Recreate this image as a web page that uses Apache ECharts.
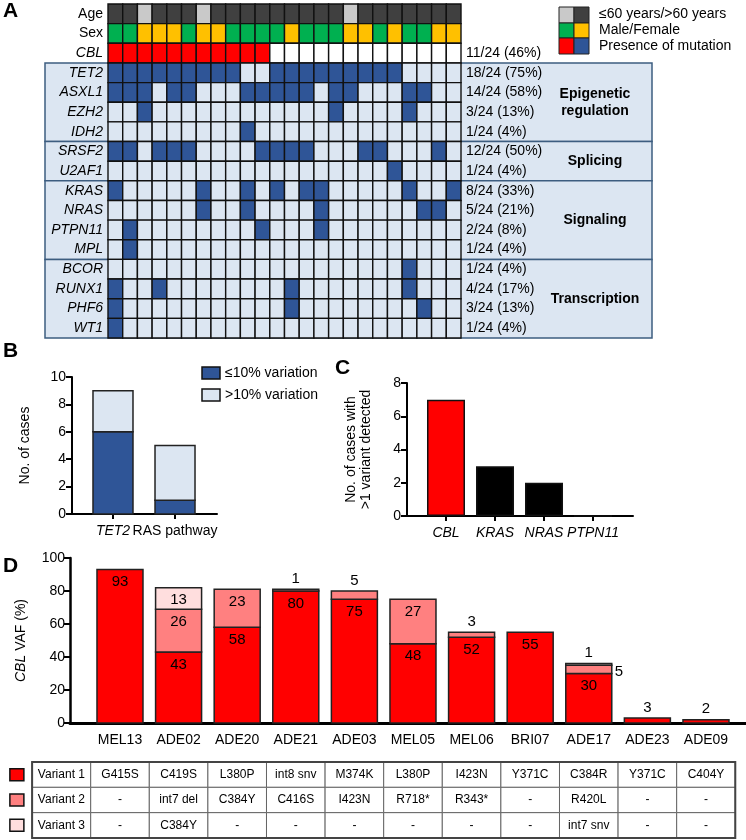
<!DOCTYPE html>
<html><head><meta charset="utf-8">
<script src="https://cdn.jsdelivr.net/npm/echarts@6/dist/echarts.min.js"></script>
<style>html,body{margin:0;padding:0;background:#fff}#c{width:746px;height:840px}</style>
</head><body><div id="c"></div>
<script>
// ===== Panel A data =====
const rowNames = ['Age','Sex','CBL','TET2','ASXL1','EZH2','IDH2','SRSF2','U2AF1','KRAS','NRAS','PTPN11','MPL','BCOR','RUNX1','PHF6','WT1'];
const countLabels = ['', '', '11/24 (46%)', '18/24 (75%)', '14/24 (58%)', '3/24 (13%)', '1/24 (4%)', '12/24 (50%)', '1/24 (4%)', '8/24 (33%)', '5/24 (21%)', '2/24 (8%)', '1/24 (4%)', '1/24 (4%)', '4/24 (17%)', '3/24 (13%)', '1/24 (4%)'];
const over60 = [1,1,0,1,1,1,0,1,1,1,1,1,1,1,1,1,0,1,1,1,1,1,1,1];
const male   = [1,1,0,0,0,1,0,0,1,1,1,1,0,1,1,1,0,0,1,0,1,1,0,0];
const mutCBL    = [1,2,3,4,5,6,7,8,9,10,11];
const mutTET2   = [1,2,3,4,5,6,7,8,9,12,13,14,15,16,17,18,19,20];
const mutASXL1  = [1,2,3,5,6,10,11,12,13,14,16,17,21,22];
const mutEZH2   = [3,16,21];
const mutIDH2   = [10];
const mutSRSF2  = [1,2,4,5,6,11,12,13,14,18,19,23];
const mutU2AF1  = [20];
const mutKRAS   = [1,7,10,12,14,15,21,24];
const mutNRAS   = [7,10,15,22,23];
const mutPTPN11 = [2,11,15];
const mutMPL    = [2];
const mutBCOR   = [21];
const mutRUNX1  = [1,4,13,21];
const mutPHF6   = [1,13,22];
const mutWT1    = [1];
const groupNames = ['Epigenetic\nregulation','Splicing','Signaling','Transcription'];
const groupFirstRow = [3,7,9,13];
const groupLastRow  = [6,8,12,16];

// ===== Panel B data =====
const bCats = ['TET2','RAS pathway'];
const bLow  = [6,1];   // <=10% variation
const bHigh = [3,4];   // >10% variation

// ===== Panel C data =====
const cCats = ['CBL','KRAS','NRAS','PTPN11'];
const cVals = [7,3,2,0];

// ===== Panel D data =====
const dCats = ['MEL13','ADE02','ADE20','ADE21','ADE03','MEL05','MEL06','BRI07','ADE17','ADE23','ADE09'];
const vaf1 = [93,43,58,80,75,48,52,55,30,3,2];
const vaf2 = [null,26,23,1,5,27,3,null,5,null,null];
const vaf3 = [null,13,null,null,null,null,null,null,1,null,null];
const variant1 = ['G415S','C419S','L380P','int8 snv','M374K','L380P','I423N','Y371C','C384R','Y371C','C404Y'];
const variant2 = ['-','int7 del','C384Y','C416S','I423N','R718*','R343*','-','R420L','-','-'];
const variant3 = ['-','C384Y','-','-','-','-','-','-','int7 snv','-','-'];
const variantNames = ['Variant 1','Variant 2','Variant 3'];

// ===== styles =====
const FONT = '"Liberation Sans", Arial, Helvetica, sans-serif';
const C_DARK = '#404040', C_LIGHT = '#c9c9c9', C_MALE = '#00b050', C_FEMALE = '#ffc000';
const C_RED = '#ff0000', C_BLUE = '#2f5597', C_PALE = '#dce6f2', C_WHITE = '#ffffff';
const C_V2 = '#ff8080', C_V3 = '#ffdede';
const cellColors = [C_DARK, C_LIGHT, C_MALE, C_FEMALE, C_RED, C_WHITE, C_BLUE, C_PALE];

const geneMut = [mutCBL, mutTET2, mutASXL1, mutEZH2, mutIDH2, mutSRSF2, mutU2AF1, mutKRAS, mutNRAS, mutPTPN11, mutMPL, mutBCOR, mutRUNX1, mutPHF6, mutWT1];
const cells = [];
for (let c = 0; c < 24; c++) {
  cells.push([c, 0, over60[c] ? 0 : 1]);
  cells.push([c, 1, male[c] ? 2 : 3]);
  geneMut.forEach((m, gi) => {
    const r = gi + 2;
    const hit = m.indexOf(c + 1) >= 0;
    cells.push([c, r, r === 2 ? (hit ? 4 : 5) : (hit ? 6 : 7)]);
  });
}
const groupData = groupNames.map((g, i) => [groupFirstRow[i], groupLastRow[i], i]);

function renderCell(params, api) {
  const p = api.coord([api.value(0), api.value(1)]);
  const s = api.size([1, 1]);
  return {type: 'rect', shape: {x: p[0] - s[0]/2, y: p[1] - s[1]/2, width: s[0], height: s[1]},
    style: {fill: cellColors[api.value(2)], stroke: '#111', lineWidth: 1.4}};
}
function renderGroup(params, api) {
  const cs = params.coordSys;
  const s = api.size([1, 1]);
  const top = api.coord([0, api.value(0)])[1] - s[1]/2;
  const bot = api.coord([0, api.value(1)])[1] + s[1]/2;
  return {type: 'group', children: [
    {type: 'rect', shape: {x: cs.x - 63, y: top, width: cs.width + 63 + 191, height: bot - top},
      style: {fill: C_PALE, stroke: '#3d5d80', lineWidth: 1.5}},
    {type: 'text', style: {text: groupNames[api.value(2)], x: cs.x + cs.width + 134, y: (top + bot)/2,
      align: 'center', verticalAlign: 'middle', font: 'bold 14px ' + FONT, fill: '#000', lineHeight: 17}}
  ]};
}

// ---- stacked bars drawn through the axes (custom series) ----
function stackLayers(layers) {
  // returns per layer: data rows [index, value, base]
  return layers.map((arr, si) => {
    const rows = [];
    arr.forEach((v, i) => {
      if (v == null) return;
      let base = 0;
      for (let k = 0; k < si; k++) base += layers[k][i] || 0;
      rows.push([i, v, base]);
    });
    return rows;
  });
}
function labelPlacement(layers, si, i) {
  const v = layers[si][i];
  if (v >= 10) return 'insideTop';
  const above = layers.slice(si + 1).some(a => a[i] != null);
  return above ? 'right' : 'top';
}
function stackSeries(layers, colors, barW, xi, yi, withLabels, fontSize) {
  const stacked = stackLayers(layers);
  return stacked.map((rows, si) => ({
    type: 'custom', xAxisIndex: xi, yAxisIndex: yi, data: rows, silent: true, z: 3,
    encode: {x: 0, y: 1},
    renderItem: (params, api) => {
      const i = api.value(0), v = api.value(1), b = api.value(2);
      const p0 = api.coord([i, b]);
      const p1 = api.coord([i, b + v]);
      const children = [{type: 'rect',
        shape: {x: p0[0] - barW/2, y: p1[1], width: barW, height: p0[1] - p1[1]},
        style: {fill: colors[si], stroke: '#222', lineWidth: 1.5}}];
      if (withLabels) {
        const pos = labelPlacement(layers, si, i);
        let st;
        if (pos === 'insideTop') st = {x: p0[0], y: p1[1] + 5, align: 'center', verticalAlign: 'top'};
        else if (pos === 'top') st = {x: p0[0], y: p1[1] - 3, align: 'center', verticalAlign: 'bottom'};
        else st = {x: p0[0] + barW/2 + 3, y: (p0[1] + p1[1]) / 2 + 2, align: 'left', verticalAlign: 'middle'};
        children.push({type: 'text', z2: 10, style: Object.assign(st, {text: String(v), font: fontSize + 'px ' + FONT, fill: '#000'})});
      }
      return {type: 'group', children};
    }
  }));
}

// table
const tableRows = [variant1, variant2, variant3];
const tableData = [];
for (let r = 0; r < 3; r++) for (let c = -1; c < 11; c++) tableData.push([c, r]);
const squareColors = [C_RED, C_V2, C_V3];
function renderTable(params, api) {
  const c = api.value(0), r = api.value(1);
  const p0 = api.coord([c - 0.5, r]);
  const p1 = api.coord([c + 0.5, r + 1]);
  const ctr = api.coord([c, r + 0.5]);
  const txt = c < 0 ? variantNames[r] : tableRows[r][c];
  const children = [
    {type: 'rect', shape: {x: p0[0], y: p0[1], width: p1[0] - p0[0], height: p1[1] - p0[1]},
      style: {fill: '#fff', stroke: '#666', lineWidth: 1}},
    {type: 'text', style: {text: txt, x: ctr[0], y: ctr[1], align: 'center', verticalAlign: 'middle',
      font: '12px ' + FONT, fill: '#000'}}
  ];
  if (c < 0) {
    const q = api.coord([-1.76, r + 0.5]);
    children.push({type: 'rect', shape: {x: q[0] - 7, y: q[1] - 6, width: 14, height: 12},
      style: {fill: squareColors[r], stroke: '#111', lineWidth: 1.5}});
  }
  return {type: 'group', children};
}
function renderFrame(params, api) {
  const p0 = api.coord([-1.5, 0]);
  const p1 = api.coord([10.5, 3]);
  return {type: 'rect', shape: {x: p0[0], y: p0[1], width: p1[0] - p0[0], height: p1[1] - p0[1]},
    style: {fill: 'none', stroke: '#444', lineWidth: 2}};
}

const axLine = w => ({show: true, onZero: false, lineStyle: {color: '#000', width: w}});
const lab = (extra) => Object.assign({color: '#000', fontSize: 14, fontFamily: FONT}, extra || {});
const tick = {show: true, length: 6, lineStyle: {width: 2, color: '#000'}};

const chart = echarts.init(document.getElementById('c'), null, {renderer: 'canvas'});
chart.setOption({
  animation: false,
  backgroundColor: '#fff',
  textStyle: {fontFamily: FONT},
  grid: [
    {left: 108, top: 4, width: 353, height: 334},   // A
    {left: 72, top: 377, width: 145, height: 137},  // B
    {left: 407, top: 383, width: 226, height: 133}, // C
    {left: 70, top: 558, width: 676, height: 165},  // D
    {left: 0, top: 762, width: 746, height: 76}     // table
  ],
  xAxis: [
    {gridIndex: 0, type: 'category', data: over60.map((_, i) => 'P' + (i + 1)), show: false},
    {gridIndex: 1, type: 'value', min: -0.661, max: 1.677, splitLine: {show: false},
      axisLine: axLine(2), axisTick: Object.assign({customValues: [0, 1]}, tick, {length: 5}),
      axisLabel: lab({customValues: [0, 1], margin: 10, formatter: v => v === 0 ? '{i|' + bCats[0] + '}' : bCats[1],
        rich: {i: {fontStyle: 'italic', fontSize: 14, fontFamily: FONT, color: '#000'}}})},
    {gridIndex: 2, type: 'value', min: -0.796, max: 3.816, splitLine: {show: false},
      axisLine: axLine(2), axisTick: Object.assign({customValues: [0, 1, 2, 3]}, tick, {length: 5}),
      axisLabel: lab({customValues: [0, 1, 2, 3], margin: 10, fontStyle: 'italic', formatter: v => cCats[Math.round(v)]})},
    {gridIndex: 3, type: 'value', min: -0.853, max: 10.683, splitLine: {show: false},
      axisLine: axLine(3), axisTick: {show: false},
      axisLabel: lab({customValues: [0,1,2,3,4,5,6,7,8,9,10], margin: 10, formatter: v => dCats[Math.round(v)]})},
    {gridIndex: 4, type: 'value', min: -2.048, max: 10.683, show: false}
  ],
  yAxis: [
    {gridIndex: 0, type: 'category', data: rowNames, inverse: true, z: 10,
      axisLine: {show: false}, axisTick: {show: false},
      axisLabel: lab({margin: 5, formatter: (v, i) => i < 2 ? v : '{i|' + v + '}',
        rich: {i: {fontStyle: 'italic', fontSize: 14, fontFamily: FONT, color: '#000'}}})},
    {gridIndex: 0, type: 'category', data: countLabels, inverse: true, position: 'right', z: 10,
      axisLine: {show: false}, axisTick: {show: false}, axisLabel: lab({margin: 5})},
    {gridIndex: 1, type: 'value', min: 0, max: 10, interval: 2, splitLine: {show: false},
      axisLine: axLine(2), axisTick: tick, axisLabel: lab({margin: 6}),
      name: 'No. of cases', nameLocation: 'middle', nameGap: 40, nameTextStyle: lab()},
    {gridIndex: 2, type: 'value', min: 0, max: 8, interval: 2, splitLine: {show: false},
      axisLine: axLine(2), axisTick: tick, axisLabel: lab({margin: 6}),
      name: 'No. of cases with\n>1 variant detected', nameLocation: 'middle', nameGap: 33, nameTextStyle: lab({lineHeight: 15})},
    {gridIndex: 3, type: 'value', min: 0, max: 100, interval: 20, splitLine: {show: false},
      axisLine: axLine(2.5), axisTick: tick, axisLabel: lab({margin: 5}),
      name: '{i|CBL} VAF (%)', nameLocation: 'middle', nameGap: 42,
      nameTextStyle: lab({rich: {i: {fontStyle: 'italic', fontSize: 14, fontFamily: FONT, color: '#000'}}})},
    {gridIndex: 4, type: 'value', min: 0, max: 3, inverse: true, show: false}
  ],
  series: [
    {type: 'custom', xAxisIndex: 0, yAxisIndex: 0, renderItem: renderGroup, data: groupData, z: 1, silent: true},
    {type: 'custom', xAxisIndex: 0, yAxisIndex: 0, renderItem: renderCell, data: cells, z: 3, silent: true},
    ...stackSeries([bLow, bHigh], [C_BLUE, C_PALE], 40, 1, 2, false, 14),
    {type: 'bar', xAxisIndex: 2, yAxisIndex: 3, barWidth: 38,
      itemStyle: {color: p => p.dataIndex === 0 ? C_RED : '#000', borderColor: '#111', borderWidth: 1.5},
      data: cVals.map((v, i) => [i, v])},
    ...stackSeries([vaf1, vaf2, vaf3], [C_RED, C_V2, C_V3], 46, 3, 4, true, 15),
    {type: 'custom', xAxisIndex: 4, yAxisIndex: 5, renderItem: renderTable, data: tableData, silent: true},
    {type: 'custom', xAxisIndex: 4, yAxisIndex: 5, renderItem: renderFrame, data: [[0, 0]], silent: true, z: 4}
  ],
  graphic: [
    {type: 'text', left: 3, top: 1, style: {text: 'A', font: 'bold 21px ' + FONT, fill: '#000'}},
    {type: 'text', left: 3, top: 341, style: {text: 'B', font: 'bold 21px ' + FONT, fill: '#000'}},
    {type: 'text', left: 335, top: 358, style: {text: 'C', font: 'bold 21px ' + FONT, fill: '#000'}},
    {type: 'text', left: 3, top: 556, style: {text: 'D', font: 'bold 21px ' + FONT, fill: '#000'}},
    // panel A legend
    {type: 'rect', shape: {x: 559, y: 7, width: 15, height: 16}, style: {fill: C_LIGHT, stroke: '#222', lineWidth: 1}},
    {type: 'rect', shape: {x: 574, y: 7, width: 15, height: 16}, style: {fill: C_DARK, stroke: '#222', lineWidth: 1}},
    {type: 'rect', shape: {x: 559, y: 23, width: 15, height: 15}, style: {fill: C_MALE, stroke: '#222', lineWidth: 1}},
    {type: 'rect', shape: {x: 574, y: 23, width: 15, height: 15}, style: {fill: C_FEMALE, stroke: '#222', lineWidth: 1}},
    {type: 'rect', shape: {x: 559, y: 38, width: 15, height: 16}, style: {fill: C_RED, stroke: '#222', lineWidth: 1}},
    {type: 'rect', shape: {x: 574, y: 38, width: 15, height: 16}, style: {fill: C_BLUE, stroke: '#222', lineWidth: 1}},
    {type: 'text', left: 599, top: 7, style: {text: '\u226460 years/>60 years', font: '14px ' + FONT, fill: '#000'}},
    {type: 'text', left: 599, top: 23, style: {text: 'Male/Female', font: '14px ' + FONT, fill: '#000'}},
    {type: 'text', left: 599, top: 39, style: {text: 'Presence of mutation', font: '14px ' + FONT, fill: '#000'}},
    // panel B legend
    {type: 'rect', shape: {x: 202, y: 367, width: 18, height: 12}, style: {fill: C_BLUE, stroke: '#111', lineWidth: 1.5}},
    {type: 'rect', shape: {x: 202, y: 389, width: 18, height: 12}, style: {fill: C_PALE, stroke: '#111', lineWidth: 1.5}},
    {type: 'text', left: 225, top: 366, style: {text: '\u226410% variation', font: '14px ' + FONT, fill: '#000'}},
    {type: 'text', left: 225, top: 388, style: {text: '>10% variation', font: '14px ' + FONT, fill: '#000'}}
  ]
});
</script></body></html>
